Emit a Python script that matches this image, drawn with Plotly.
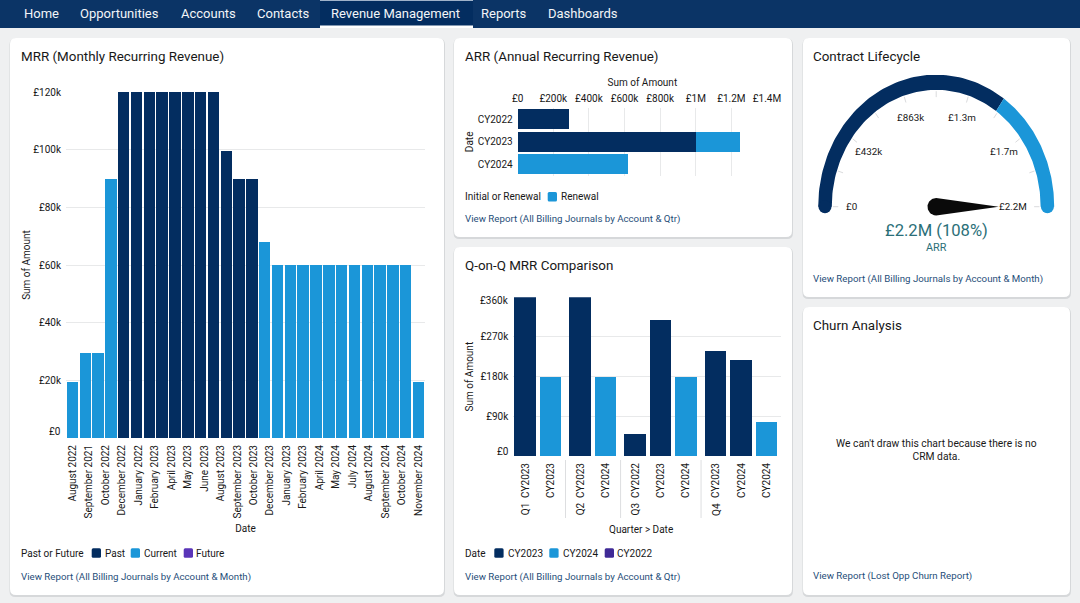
import math
import numpy as np
import plotly.graph_objects as go

W, H = 1080, 603
DARK = "#032D60"
LIGHT = "#1B96D8"
PURPLE = "#5A35B8"
INK = "#181818"
LINK = "#1F4E79"
GRID = "#E8E9EA"
FONT = "Roboto"

# ---- data ----
mrr_tick_labels = ["August 2022", "September 2021", "October 2022", "December 2022", "January 2022",
                   "February 2023", "April 2023", "May 2023", "June 2023", "August 2023",
                   "September 2023", "October 2023", "December 2023", "January 2023", "February 2023",
                   "April 2024", "May 2024", "July 2024", "August 2024", "September 2024",
                   "October 2024", "November 2024"]
mrr_past = [None, None, None, None, 120000, 120000, 120000, 120000, 120000, 120000, 120000, 120000,
            99500, 90000, 90000, None, None, None, None, None, None, None, None, None, None, None, None, None]
mrr_current = [19500, 29500, 29500, 90000, None, None, None, None, None, None, None, None,
               None, None, None, 68000, 60000, 60000, 60000, 60000, 60000, 60000, 60000, 60000,
               60000, 60000, 60000, 19500]

arr_years = ["CY2022", "CY2023", "CY2024"]
arr_initial = [288000, 1000000, None]
arr_renewal = [None, 248000, 620000]
arr_ticks = [0, 200000, 400000, 600000, 800000, 1000000, 1200000, 1400000]
arr_tick_labels = ["£0", "£200k", "£400k", "£600k", "£800k", "£1M", "£1.2M", "£1.4M"]

qoq_labels = ["CY2023", "CY2023", "CY2023", "CY2024", "CY2022", "CY2023", "CY2024", "CY2023", "CY2024", "CY2024"]
qoq_quarters = ["Q1", "Q1", "Q2", "Q2", "Q3", "Q3", "Q3", "Q4", "Q4", "Q4"]
qoq_dark = [360000, None, 360000, None, 49000, 308000, None, 238000, 216000, None]
qoq_light = [None, 178000, None, 178000, None, None, 178000, None, None, 77000]

gauge_max = 2160000
gauge_split = 1500000
gauge_value = 2160000
gauge_tick_labels = ["£0", "£432k", "£863k", "£1.3m", "£1.7m", "£2.2M"]

nav_items = ["Home", "Opportunities", "Accounts", "Contacts", "Revenue Management", "Reports", "Dashboards"]
nav_x = [24, 80, 181, 257, 331, 481, 548]


# ---- pixel helpers for the page layout ----
def xp(v): return v / W
def yp(v): return 1 - v / H
def dom_x(a, b): return [xp(a), xp(b)]
def dom_y(top, bottom): return [yp(bottom), yp(top)]


shapes, notes = [], []


def rrect(x0, y0, x1, y1, r, color):
    a, b, c, d = xp(x0), xp(x1), yp(y0), yp(y1)
    rx, ry = r / W, r / H
    path = (f"M{a+rx},{c} L{b-rx},{c} Q{b},{c} {b},{c-ry} L{b},{d+ry} Q{b},{d} {b-rx},{d} "
            f"L{a+rx},{d} Q{a},{d} {a},{d+ry} L{a},{c-ry} Q{a},{c} {a+rx},{c} Z")
    shapes.append(dict(type="path", path=path, xref="paper", yref="paper", fillcolor=color,
                       line=dict(width=0), layer="below"))


def text(x, y, s, size=10, color=INK, anchor="left", **kw):
    if anchor == "left":
        x -= 1
    elif anchor == "right":
        x += 1
    notes.append(dict(x=xp(x), y=yp(y), xref="paper", yref="paper", text=s, showarrow=False,
                      xanchor=anchor, yanchor="middle", font=dict(family=FONT, size=size, color=color),
                      borderpad=0, **kw))


def legend(x, y, title, items):
    text(x, y, title)
    for sx, tx, color, name in items:
        rrect(sx, y - 4.7, sx + 9.3, y + 4.7, 1.5, color)
        text(tx, y, name)


def band_rect(x0, x1, top, bottom, color):
    shapes.append(dict(type="rect", xref="paper", yref="paper", x0=xp(x0), x1=xp(x1), y0=yp(bottom), y1=yp(top),
                       fillcolor=color, line=dict(width=0), layer="below"))


# page
rrect(-5, 27, W + 5, H + 5, 0, "#EFF0F1")
band_rect(0, W, 0, 28, "#0B3466")
band_rect(320, 473, 0, 25.5, DARK)
band_rect(320, 473, 25.5, 28, "#FFFFFF")
band_rect(320, 473, 0, 1, "#9FB2C9")
for name, nx in zip(nav_items, nav_x):
    text(nx, 13, name, size=13, color="#F2F5F8")

cards = [(10, 38, 444, 595), (454, 38, 792, 237), (454, 247, 792, 595), (803, 38, 1070, 297), (803, 307, 1070, 595)]
for c in cards:
    rrect(c[0] - 0.5, c[1] + 0.5, c[2] + 1, c[3] + 2, 6, "#D6D8DA")
    rrect(*c, 6, "#FFFFFF")

text(20.7, 56.5, "MRR (Monthly Recurring Revenue)", size=13.4)
text(465, 56.5, "ARR (Annual Recurring Revenue)", size=13.4)
text(465, 265.7, "Q-on-Q MRR Comparison", size=13.4)
text(813, 56.5, "Contract Lifecycle", size=13.4)
text(813, 325.5, "Churn Analysis", size=13.4)

text(21, 576.5, "View Report (All Billing Journals by Account &amp; Month)", size=9.7, color=LINK)
text(465, 218.7, "View Report (All Billing Journals by Account &amp; Qtr)", size=9.7, color=LINK)
text(465, 576.5, "View Report (All Billing Journals by Account &amp; Qtr)", size=9.7, color=LINK)
text(813, 279, "View Report (All Billing Journals by Account &amp; Month)", size=9.7, color=LINK)
text(813, 576, "View Report (Lost Opp Churn Report)", size=9.7, color=LINK)

legend(21, 553, "Past or Future", [(91.7, 104.7, DARK, "Past"), (130.7, 143.7, LIGHT, "Current"), (183.7, 196.3, PURPLE, "Future")])
legend(465, 196.7, "Initial or Renewal", [(547.7, 560.7, LIGHT, "Renewal")])
legend(465, 553, "Date", [(494.3, 508, DARK, "CY2023"), (549.3, 562.7, LIGHT, "CY2024"), (604.7, 617.3, "#3F2A96", "CY2022")])

text(936, 450, "We can't draw this chart because there is no<br>CRM data.", size=10.3, anchor="center")
text(641, 529, "Quarter &gt; Date", size=10, anchor="center")
# End labels the reference nudges inside the plot height
text(61, 431.7, "£0", anchor="right")
text(508.7, 451, "£0", anchor="right")
text(508.7, 300, "£360k", anchor="right")

fig = go.Figure()
axis_font = dict(family=FONT, size=10, color=INK)
title_font = dict(family=FONT, size=10, color=INK)

# ---- MRR ----
n_mrr = len(mrr_past)
mrr_x = list(range(n_mrr))
fig.add_bar(x=mrr_x, y=mrr_past, name="Past", marker=dict(color=DARK, line=dict(width=0)), width=0.89, xaxis="x", yaxis="y", showlegend=False)
fig.add_bar(x=mrr_x, y=mrr_current, name="Current", marker=dict(color=LIGHT, line=dict(width=0)), width=0.89, xaxis="x", yaxis="y", showlegend=False)

# ---- ARR ----
fig.add_bar(x=arr_initial, y=arr_years, orientation="h", name="Initial", marker=dict(color=DARK, line=dict(width=0)), width=0.89, xaxis="x2", yaxis="y2", showlegend=False)
fig.add_bar(x=arr_renewal, y=arr_years, orientation="h", name="Renewal", marker=dict(color=LIGHT, line=dict(width=0)), width=0.89, xaxis="x2", yaxis="y2", showlegend=False)

# ---- Q-on-Q ----
quarters_seen = []
qoq_x = []
for i, q in enumerate(qoq_quarters):
    if q not in quarters_seen:
        quarters_seen.append(q)
    qoq_x.append(i + 0.167 * (len(quarters_seen) - 1))
fig.add_bar(x=qoq_x, y=qoq_dark, name="Dark", marker=dict(color=DARK, line=dict(width=0)), width=0.84, xaxis="x3", yaxis="y3", showlegend=False)
fig.add_bar(x=qoq_x, y=qoq_light, name="Light", marker=dict(color=LIGHT, line=dict(width=0)), width=0.84, xaxis="x3", yaxis="y3", showlegend=False)
for i, q in enumerate(qoq_quarters):
    if i == 0 or qoq_quarters[i - 1] != q:
        notes.append(dict(x=qoq_x[i], y=yp(509), xref="x3", yref="paper", text=q, showarrow=False, textangle=-90,
                          xanchor="center", yanchor="middle", font=axis_font))
        if i > 0:
            mid = (qoq_x[i] + qoq_x[i - 1]) / 2
            shapes.append(dict(type="line", xref="x3", yref="paper", x0=mid, x1=mid, y0=yp(460), y1=yp(518),
                               line=dict(color="#DDDEE0", width=1)))


# ---- gauge ----
def ang(v): return math.pi * (1 - v / gauge_max)


def band(v0, v1, r_in=0.885, r_out=1.0):
    a = np.linspace(ang(v0), ang(v1), 80)
    return (np.r_[r_out * np.cos(a), r_in * np.cos(a[::-1])].tolist(),
            np.r_[r_out * np.sin(a), r_in * np.sin(a[::-1])].tolist())


for v0, v1, col in [(0, gauge_split, DARK), (gauge_split, gauge_max, LIGHT)]:
    gx, gy = band(v0, v1)
    fig.add_scatter(x=gx, y=gy, mode="lines", fill="toself", fillcolor=col, line=dict(width=0, color=col),
                    xaxis="x4", yaxis="y4", showlegend=False, hoverinfo="skip")
for v, col in [(0, DARK), (gauge_max, LIGHT)]:
    fig.add_scatter(x=[0.9425 * math.cos(ang(v))], y=[0], mode="markers", marker=dict(size=13, color=col, line=dict(width=0)),
                    xaxis="x4", yaxis="y4", showlegend=False, hoverinfo="skip")
tx, ty = [], []
for k in range(11):
    a = math.pi * (1 - k / 10)
    tx += [0.83 * math.cos(a), 0.875 * math.cos(a), None]
    ty += [0.83 * math.sin(a), 0.875 * math.sin(a), None]
fig.add_scatter(x=tx, y=ty, mode="lines", line=dict(color="#DADBDD", width=1), xaxis="x4", yaxis="y4", showlegend=False, hoverinfo="skip")
# needle
na = ang(gauge_value)
ux, uy = math.cos(na), math.sin(na)
t = np.linspace(math.pi / 2, 3 * math.pi / 2, 40)
bx = 0.074 * (ux * np.cos(t) - uy * np.sin(t))
by = 0.066 * (uy * np.cos(t) + ux * np.sin(t))
fig.add_scatter(x=np.r_[bx, 0.53 * ux, bx[0]].tolist(), y=np.r_[by, 0.53 * uy, by[0]].tolist(), mode="lines", fill="toself",
                fillcolor="#0A0A0A", line=dict(width=0, color="#0A0A0A"), xaxis="x4", yaxis="y4", showlegend=False, hoverinfo="skip")
n_glabels = len(gauge_tick_labels)
for k, lab in enumerate(gauge_tick_labels):
    a = math.pi * (1 - k / (n_glabels - 1))
    if k == 0:
        lx, anc = -0.785, "left"
    elif k == n_glabels - 1:
        lx, anc = 0.785, "right"
    else:
        lx, anc = 0.71 * math.cos(a), "center"
    notes.append(dict(x=lx, y=0.71 * math.sin(a), xref="x4", yref="y4", text=lab, showarrow=False, xanchor=anc, yanchor="middle",
                      font=dict(family=FONT, size=9.8, color=INK)))
text(936, 230.7, "£2.2M (108%)", size=16.6, color="#2B6F78", anchor="center")
text(936, 247, "ARR", size=10.8, color="#2B6F78", anchor="center")

fig.update_layout(
    width=W, height=H, autosize=False, margin=dict(l=0, r=0, t=0, b=0, autoexpand=False),
    paper_bgcolor="rgba(0,0,0,0)", plot_bgcolor="rgba(0,0,0,0)", barmode="stack", bargap=0,
    font=dict(family=FONT, size=10, color=INK), showlegend=False,
    shapes=shapes, annotations=notes,
    xaxis=dict(domain=dom_x(66, 425), range=[-0.5, n_mrr - 0.5], anchor="y", tickmode="array",
               tickvals=[i * (n_mrr - 1) / (len(mrr_tick_labels) - 1) for i in range(len(mrr_tick_labels))],
               ticktext=mrr_tick_labels, tickangle=-90, showgrid=False, zeroline=False, ticks="", ticklabelstandoff=4,
               tickfont=axis_font, title=dict(text="Date", font=title_font, standoff=7), showline=False),
    yaxis=dict(domain=dom_y(92, 438), range=[0, 120000], anchor="x", tickmode="array",
               tickvals=[0, 20000, 40000, 60000, 80000, 100000, 120000],
               ticktext=["", "£20k", "£40k", "£60k", "£80k", "£100k", "£120k"], gridcolor=GRID, zeroline=False,
               ticks="", ticklabelstandoff=4, tickfont=axis_font, title=dict(text="Sum of Amount", font=title_font, standoff=0)),
    xaxis2=dict(domain=dom_x(517.7, 767), range=[0, 1400000], anchor="y2", side="top", tickmode="array", tickvals=arr_ticks,
                ticktext=arr_tick_labels, gridcolor=GRID, zeroline=False, ticks="", ticklabelstandoff=3, tickfont=axis_font,
                title=dict(text="Sum of Amount", font=title_font, standoff=4)),
    yaxis2=dict(domain=dom_y(108, 175.7), type="category", categoryorder="array", categoryarray=arr_years, range=[2.5, -0.5],
                anchor="x2", showgrid=False, zeroline=False, ticks="", ticklabelstandoff=4, tickfont=axis_font,
                title=dict(text="Date", font=title_font, standoff=2)),
    xaxis3=dict(domain=dom_x(513.3, 780.7), range=[-0.47, qoq_x[-1] + 0.55], anchor="y3", tickmode="array", tickvals=qoq_x,
                ticktext=qoq_labels, tickangle=-90, showgrid=False, zeroline=False, ticks="", ticklabelstandoff=4,
                tickfont=axis_font),
    yaxis3=dict(domain=dom_y(297.3, 456), range=[0, 360000], anchor="x3", tickmode="array",
                tickvals=[0, 90000, 180000, 270000, 360000], ticktext=["", "£90k", "£180k", "£270k", ""],
                gridcolor=GRID, zeroline=False, ticks="", ticklabelstandoff=4, tickfont=axis_font,
                title=dict(text="Sum of Amount", font=title_font, standoff=5)),
    xaxis4=dict(domain=dom_x(936.2 - 141.6, 936.2 + 141.6), range=[-1.2, 1.2], anchor="y4", visible=False, fixedrange=True),
    yaxis4=dict(domain=dom_y(206.7 - 158.4, 206.7 + 26.4), range=[-0.2, 1.2], anchor="x4", visible=False, fixedrange=True),
)

fig.write_html("out.html", config=dict(displayModeBar=False),
               post_script="document.body.style.margin='0';document.body.style.overflow='hidden';")
